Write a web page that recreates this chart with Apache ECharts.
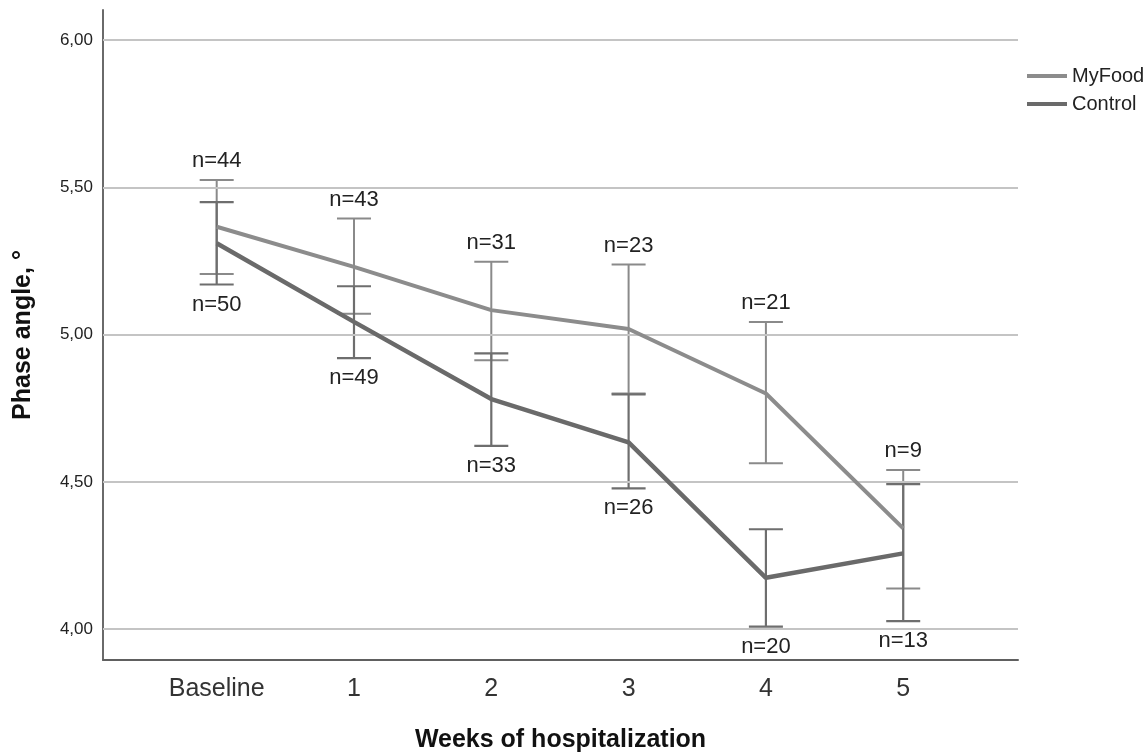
<!DOCTYPE html>
<html>
<head>
<meta charset="utf-8">
<script src="https://cdn.jsdelivr.net/npm/echarts@6/dist/echarts.min.js"></script>
<style>
html,body{margin:0;padding:0;background:#fff;}
#chart{width:1147px;height:753px;}
</style>
</head>
<body>
<div id="chart"></div>
<script>
const categories = ['Baseline', '1', '2', '3', '4', '5'];
const yTickValues = [4.0, 4.5, 5.0, 5.5, 6.0];

const myFoodMean = [5.366, 5.230, 5.083, 5.019, 4.800, 4.342];
const myFoodLow  = [5.206, 5.071, 4.913, 4.800, 4.563, 4.138];
const myFoodHigh = [5.525, 5.394, 5.247, 5.238, 5.043, 4.540];
const myFoodN    = [44, 43, 31, 23, 21, 9];

const controlMean = [5.310, 5.043, 4.781, 4.634, 4.174, 4.257];
const controlLow  = [5.170, 4.920, 4.622, 4.478, 4.008, 4.027];
const controlHigh = [5.450, 5.164, 4.936, 4.797, 4.339, 4.492];
const controlN    = [50, 49, 33, 26, 20, 13];

const FONT = '"Liberation Sans", Arial, sans-serif';
const C_MYFOOD = '#8c8c8c';
const C_MYFOOD_BAR = '#8a8a8a';
const C_CONTROL = '#6a6a6a';
const C_CONTROL_BAR = '#6e6e6e';

function lineData(means) { return means.map((v, i) => [i, v]); }
function barData(lo, hi, n) { return lo.map((v, i) => [i, v, hi[i], n[i]]); }

function makeErrorRender(color, width, labelAbove) {
  return function (params, api) {
    const x = api.value(0), lo = api.value(1), hi = api.value(2), n = api.value(3);
    const pLo = api.coord([x, lo]);
    const pHi = api.coord([x, hi]);
    const hw = 17;
    const st = { stroke: color, lineWidth: width };
    const ty = labelAbove ? pHi[1] - 19 : pLo[1] + 20;
    return {
      type: 'group',
      children: [
        { type: 'line', shape: { x1: pLo[0], y1: pLo[1], x2: pHi[0], y2: pHi[1] }, style: st },
        { type: 'line', shape: { x1: pHi[0] - hw, y1: pHi[1], x2: pHi[0] + hw, y2: pHi[1] }, style: st },
        { type: 'line', shape: { x1: pLo[0] - hw, y1: pLo[1], x2: pLo[0] + hw, y2: pLo[1] }, style: st },
        { type: 'text', style: { text: 'n=' + n, x: pHi[0], y: ty, align: 'center', verticalAlign: 'middle',
            font: '22px ' + FONT, fill: '#222' } }
      ]
    };
  };
}

const chart = echarts.init(document.getElementById('chart'), null, { renderer: 'canvas' });
chart.setOption({
  animation: false,
  backgroundColor: '#fff',
  grid: { left: 103, right: 129, top: 10, bottom: 93, containLabel: false, outerBoundsMode: 'none' },
  legend: {
    orient: 'vertical',
    left: 1022, top: 61,
    itemWidth: 40, itemHeight: 4, itemGap: 8,
    icon: 'rect',
    textStyle: { fontFamily: FONT, fontSize: 20, color: '#222', lineHeight: 20 },
    data: ['MyFood', 'Control']
  },
  xAxis: {
    type: 'value',
    min: -0.828, max: 5.836,
    name: 'Weeks of hospitalization',
    nameLocation: 'middle', nameGap: 68,
    nameTextStyle: { fontFamily: FONT, fontSize: 25, fontWeight: 'bold', color: '#111' },
    axisLine: { show: true, onZero: false, lineStyle: { color: '#606060', width: 2 } },
    axisTick: { show: false },
    splitLine: { show: false },
    axisLabel: {
      customValues: [0, 1, 2, 3, 4, 5],
      formatter: v => categories[Math.round(v)],
      fontFamily: FONT, fontSize: 25, color: '#333', margin: 17
    }
  },
  yAxis: {
    type: 'value',
    min: 3.895, max: 6.102,
    name: 'Phase angle, °',
    nameLocation: 'middle', nameGap: 67,
    nameTextStyle: { fontFamily: FONT, fontSize: 25, fontWeight: 'bold', color: '#111' },
    axisLine: { show: true, onZero: false, lineStyle: { color: '#6a6a6a', width: 2 } },
    axisTick: { show: false },
    splitLine: { show: false },
    axisLabel: {
      customValues: yTickValues,
      formatter: v => v.toFixed(2).replace('.', ','),
      fontFamily: FONT, fontSize: 17, color: '#222', margin: 10
    }
  },
  series: [
    {
      name: 'grid', type: 'line', data: [], silent: true, z: 1,
      markLine: {
        silent: true, symbol: ['none', 'none'], label: { show: false },
        lineStyle: { color: '#c4c4c4', width: 2, type: 'solid' },
        data: yTickValues.map(v => ({ yAxis: v }))
      }
    },
    {
      name: 'MyFood CI', type: 'custom', z: 3,
      renderItem: makeErrorRender(C_MYFOOD_BAR, 2, true),
      encode: { x: 0, y: [1, 2] },
      data: barData(myFoodLow, myFoodHigh, myFoodN)
    },
    {
      name: 'Control CI', type: 'custom', z: 3,
      renderItem: makeErrorRender(C_CONTROL_BAR, 2.2, false),
      encode: { x: 0, y: [1, 2] },
      data: barData(controlLow, controlHigh, controlN)
    },
    {
      name: 'MyFood', type: 'line', z: 5, symbol: 'none',
      color: C_MYFOOD,
      lineStyle: { color: C_MYFOOD, width: 4 },
      data: lineData(myFoodMean)
    },
    {
      name: 'Control', type: 'line', z: 5, symbol: 'none',
      color: C_CONTROL,
      lineStyle: { color: C_CONTROL, width: 4.5 },
      data: lineData(controlMean)
    }
  ]
});
</script>
</body>
</html>
